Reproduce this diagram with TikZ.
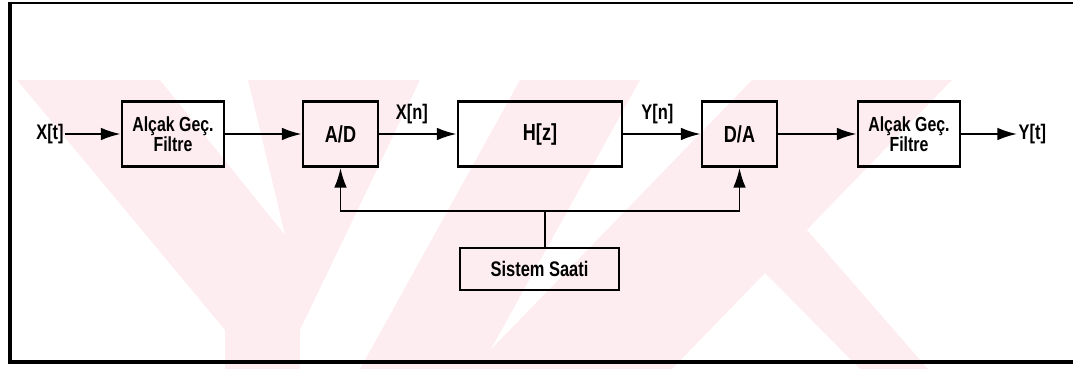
\documentclass[tikz,border=0pt]{standalone}
\usepackage{fontspec}
\setsansfont{Liberation Sans}[FakeStretch=0.78]
\usetikzlibrary{arrows.meta}
\definecolor{wmpink}{RGB}{254,237,240}

\tikzset{
  blok/.style={draw, line width=2pt, minimum height=1.625cm, inner sep=1pt, align=center, font=\sffamily\bfseries\fontsize{16.5}{16.5}\selectfont},
  filtre/.style={blok, minimum width=2.55cm, font=\sffamily\bfseries\fontsize{14.5}{14.5}\selectfont},
  etiket/.style={font=\sffamily\bfseries\fontsize{15}{15}\selectfont, inner sep=1pt},
  ok/.style={-{Latex[length=14pt,width=9pt]}, line width=1.4pt},
  hat/.style={line width=1.4pt}
}

\begin{document}
\begin{tikzpicture}[x=0.025cm, y=-0.025cm]
\useasboundingbox (0,0) rectangle (1073,369);

\fill[wmpink] (17,80) -- (160,80) -- (285,235) -- (248,80) -- (420,80) -- (300,330) -- (300,369) -- (225,369) -- (225,330) -- cycle;
\fill[wmpink] (520,80) -- (640,80) -- (480,369) -- (360,369) -- cycle;
\fill[wmpink] (752,80) -- (952,80) -- (672,369) -- (472,369) -- cycle;
\fill[wmpink] (807,230) -- (928,369) -- (860,369) -- (765,273) -- cycle;

\draw[line width=1.4pt] (9,3) -- (1073,3);
\draw[line width=3pt] (10,2) -- (10,364);
\draw[line width=3pt] (9,362) -- (1073,362);

\node[filtre] (lpf1) at (173,134) {Alçak Geç.\\Filtre};
\node[blok, minimum width=1.875cm] (adc) at (340.5,134) {A/D};
\node[blok, minimum width=4.1cm] (hz) at (540,134) {H[z]};
\node[blok, minimum width=1.875cm] (dac) at (739.5,134) {D/A};
\node[filtre] (lpf2) at (909,134) {Alçak Geç.\\Filtre};
\node[blok, minimum width=3.975cm, minimum height=1.05cm, font=\sffamily\bfseries\fontsize{15}{15}\selectfont] (saat) at (539.5,269) {Sistem Saati};

\node[etiket] (xt) at (50,134) {X[t]};
\node[etiket, anchor=west] (yt) at (1017,134) {Y[t]};
\coordinate (ayr) at (545,211);

\draw[ok] (xt) -- (lpf1);
\draw[ok] (lpf1) -- (adc);
\draw[ok] (adc) -- node[etiket, above=5.5pt, pos=0.42] (xn) {X[n]} (hz);
\draw[ok] (hz) -- node[etiket, above=5.5pt, pos=0.44] (yn) {Y[n]} (dac);
\draw[ok] (dac) -- (lpf2);
\draw[ok] (lpf2) -- (yt);

\draw[hat] (saat.north -| ayr) -- (ayr);
\draw[ok] (ayr) -| (adc.south);
\draw[ok] (ayr) -| (dac.south);
\end{tikzpicture}
\end{document}
